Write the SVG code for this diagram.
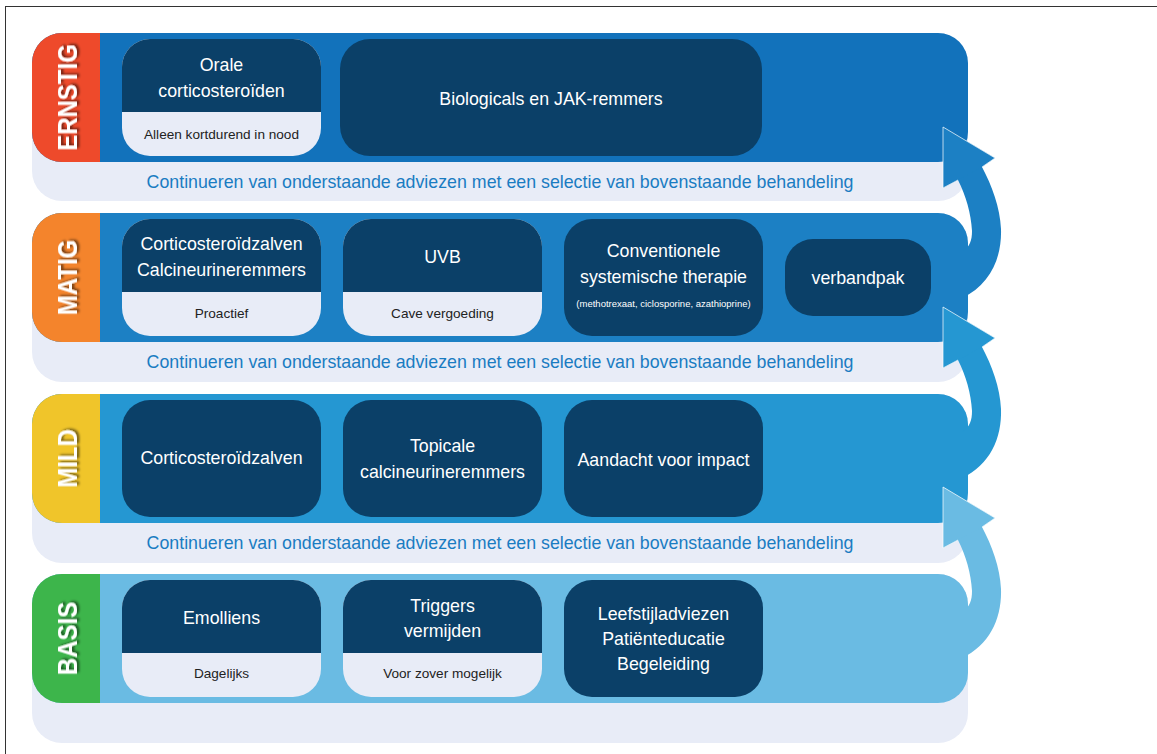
<svg xmlns="http://www.w3.org/2000/svg" width="1157" height="754" viewBox="0 0 1157 754">
  <style>
    .t { font-family: "Liberation Sans", Arial, sans-serif; fill: #ffffff; font-size: 17.8px; text-anchor: middle; }
    .sub { font-family: "Liberation Sans", Arial, sans-serif; fill: #222222; font-size: 13.6px; text-anchor: middle; }
    .tiny { font-family: "Liberation Sans", Arial, sans-serif; fill: #ffffff; font-size: 9.5px; text-anchor: middle; }
    .cont { font-family: "Liberation Sans", Arial, sans-serif; fill: #1a7cc2; font-size: 17.8px; text-anchor: middle; }
    .lvl { font-family: "Liberation Sans", Arial, sans-serif; fill: #ffffff; font-size: 24px; font-weight: bold; text-anchor: middle; filter: url(#shadow); }
    .pale { fill: #e8ecf7; }
    .dark { fill: #0b4068; }
    .arrowhead { stroke: #ffffff; stroke-width: 1; stroke-opacity: 0.7; }
  </style>
  <defs>
    <filter id="shadow" x="-20%" y="-40%" width="140%" height="180%">
      <feDropShadow dx="1.5" dy="2" stdDeviation="1" flood-color="#000000" flood-opacity="0.55"/>
    </filter>
  </defs>

  <rect width="1157" height="754" fill="#ffffff"/>
  <rect x="5.5" y="6.5" width="1200" height="800" fill="none" stroke="#333333" stroke-width="1"/>

  <!-- level bands -->
  <g id="band-ernstig">
    <rect class="pale" x="32" y="33" width="936" height="168" rx="30"/>
    <rect x="32" y="33" width="936" height="129" rx="30" fill="#1272bb"/>
    <path d="M100,33 V162 H62 A30,30 0 0 1 32,132 V63 A30,30 0 0 1 62,33 Z" fill="#ee4a2b"/>
    <text class="lvl" transform="translate(77,97.5) rotate(-90) scale(1,1.15)">ERNSTIG</text>
    <text class="cont" x="500" y="188">Continueren van onderstaande adviezen met een selectie van bovenstaande behandeling</text>
  </g>
  <g id="band-matig">
    <rect class="pale" x="32" y="213" width="936" height="169" rx="30"/>
    <rect x="32" y="213" width="936" height="129" rx="30" fill="#1c80c4"/>
    <path d="M100,213 V342 H62 A30,30 0 0 1 32,312 V243 A30,30 0 0 1 62,213 Z" fill="#f4842c"/>
    <text class="lvl" transform="translate(77,277.5) rotate(-90) scale(1,1.15)">MATIG</text>
    <text class="cont" x="500" y="368">Continueren van onderstaande adviezen met een selectie van bovenstaande behandeling</text>
  </g>
  <g id="band-mild">
    <rect class="pale" x="32" y="394" width="936" height="169" rx="30"/>
    <rect x="32" y="394" width="936" height="129" rx="30" fill="#2597d2"/>
    <path d="M100,394 V523 H62 A30,30 0 0 1 32,493 V424 A30,30 0 0 1 62,394 Z" fill="#f0c52a"/>
    <text class="lvl" transform="translate(77,458.5) rotate(-90) scale(1,1.15)">MILD</text>
    <text class="cont" x="500" y="549">Continueren van onderstaande adviezen met een selectie van bovenstaande behandeling</text>
  </g>
  <g id="band-basis">
    <rect class="pale" x="32" y="574" width="936" height="169" rx="30"/>
    <rect x="32" y="574" width="936" height="129" rx="30" fill="#6abbe3"/>
    <path d="M100,574 V703 H62 A30,30 0 0 1 32,673 V604 A30,30 0 0 1 62,574 Z" fill="#3db54b"/>
    <text class="lvl" transform="translate(77,638.5) rotate(-90) scale(1,1.15)">BASIS</text>
  </g>

  <!-- ERNSTIG treatments -->
  <g id="orale-corticosteroiden">
    <rect class="pale" x="122" y="39" width="199" height="117" rx="28"/>
    <path class="dark" d="M122,112 V67 A28,28 0 0 1 150,39 H293 A28,28 0 0 1 321,67 V112 Z"/>
    <text class="t" x="221.5" y="71">Orale</text>
    <text class="t" x="221.5" y="97">corticosteroïden</text>
    <text class="sub" x="221.5" y="139">Alleen kortdurend in nood</text>
  </g>
  <g id="biologicals">
    <rect class="dark" x="340" y="39" width="422" height="117" rx="30"/>
    <text class="t" x="551" y="105">Biologicals en JAK-remmers</text>
  </g>

  <!-- MATIG treatments -->
  <g id="corticosteroidzalven-calcineurineremmers">
    <rect class="pale" x="122" y="219" width="199" height="117" rx="28"/>
    <path class="dark" d="M122,292 V247 A28,28 0 0 1 150,219 H293 A28,28 0 0 1 321,247 V292 Z"/>
    <text class="t" x="221.5" y="250">Corticosteroïdzalven</text>
    <text class="t" x="221.5" y="276">Calcineurineremmers</text>
    <text class="sub" x="221.5" y="318">Proactief</text>
  </g>
  <g id="uvb">
    <rect class="pale" x="343" y="219" width="199" height="117" rx="28"/>
    <path class="dark" d="M343,292 V247 A28,28 0 0 1 371,219 H514 A28,28 0 0 1 542,247 V292 Z"/>
    <text class="t" x="442.5" y="263">UVB</text>
    <text class="sub" x="442.5" y="318">Cave vergoeding</text>
  </g>
  <g id="conventionele-therapie">
    <rect class="dark" x="564" y="219" width="199" height="117" rx="28"/>
    <text class="t" x="663.5" y="257">Conventionele</text>
    <text class="t" x="663.5" y="283">systemische therapie</text>
    <text class="tiny" x="663.5" y="307">(methotrexaat, ciclosporine, azathioprine)</text>
  </g>
  <g id="verbandpak">
    <rect class="dark" x="785" y="239" width="146" height="77" rx="28"/>
    <text class="t" x="858" y="284">verbandpak</text>
  </g>

  <!-- MILD treatments -->
  <g id="corticosteroidzalven">
    <rect class="dark" x="122" y="400" width="199" height="117" rx="28"/>
    <text class="t" x="221.5" y="464">Corticosteroïdzalven</text>
  </g>
  <g id="topicale-calcineurineremmers">
    <rect class="dark" x="343" y="400" width="199" height="117" rx="28"/>
    <text class="t" x="442.5" y="452">Topicale</text>
    <text class="t" x="442.5" y="478">calcineurineremmers</text>
  </g>
  <g id="aandacht-impact">
    <rect class="dark" x="564" y="400" width="199" height="117" rx="28"/>
    <text class="t" x="663.5" y="466">Aandacht voor impact</text>
  </g>

  <!-- BASIS treatments -->
  <g id="emolliens">
    <rect class="pale" x="122" y="580" width="199" height="117" rx="28"/>
    <path class="dark" d="M122,653 V608 A28,28 0 0 1 150,580 H293 A28,28 0 0 1 321,608 V653 Z"/>
    <text class="t" x="221.5" y="624">Emolliens</text>
    <text class="sub" x="221.5" y="678">Dagelijks</text>
  </g>
  <g id="triggers-vermijden">
    <rect class="pale" x="343" y="580" width="199" height="117" rx="28"/>
    <path class="dark" d="M343,653 V608 A28,28 0 0 1 371,580 H514 A28,28 0 0 1 542,608 V653 Z"/>
    <text class="t" x="442.5" y="612">Triggers</text>
    <text class="t" x="442.5" y="637">vermijden</text>
    <text class="sub" x="442.5" y="678">Voor zover mogelijk</text>
  </g>
  <g id="leefstijl">
    <rect class="dark" x="564" y="580" width="199" height="117" rx="28"/>
    <text class="t" x="663.5" y="620">Leefstijladviezen</text>
    <text class="t" x="663.5" y="645">Patiënteducatie</text>
    <text class="t" x="663.5" y="670">Begeleiding</text>
  </g>

  <!-- escalation arrows -->
  <g id="connectors">
    <path d="M962,298 C990,285 1002,258 1001,229 C1000,207 992,186 982,167 L995,158 L943,127 L943,188 L958,180 C966,196 971,213 972,231 C972,240 970,247 962,252 Z" fill="#1c80c4"/>
    <path class="arrowhead" d="M982,167 L995,158 L943,127 L943,188 L958,180" fill="#1c80c4"/>
    <path d="M962,478 C990,465 1002,438 1001,409 C1000,387 992,366 982,347 L995,338 L943,307 L943,368 L958,360 C966,376 971,393 972,411 C972,420 970,427 962,432 Z" fill="#2597d2"/>
    <path class="arrowhead" d="M982,347 L995,338 L943,307 L943,368 L958,360" fill="#2597d2"/>
    <path d="M962,658 C990,645 1002,618 1001,589 C1000,567 992,546 982,527 L995,518 L943,487 L943,548 L958,540 C966,556 971,573 972,591 C972,600 970,607 962,612 Z" fill="#6abbe3"/>
    <path class="arrowhead" d="M982,527 L995,518 L943,487 L943,548 L958,540" fill="#6abbe3"/>
  </g>
</svg>
